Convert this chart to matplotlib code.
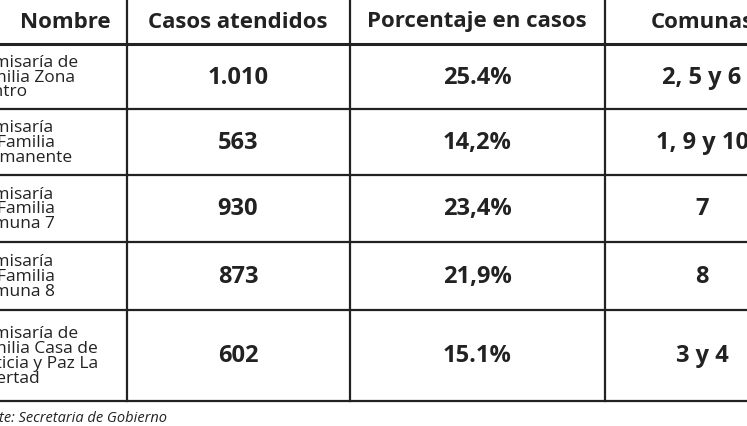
import matplotlib
matplotlib.use("Agg")
import matplotlib.pyplot as plt

headers = ["Nombre", "Casos atendidos", "Porcentaje en casos", "Comunas"]
names = ["Comisaría de\nFamilia Zona\nCentro", "Comisaría\nde Familia\nPermanente",
         "Comisaría\nde Familia\nComuna 7", "Comisaría\nde Familia\nComuna 8",
         "Comisaría de\nFamilia Casa de\nJusticia y Paz La\nLibertad"]
casos = ["1.010", "563", "930", "873", "602"]
porcentaje = ["25.4%", "14,2%", "23,4%", "21,9%", "15.1%"]
comunas = ["2, 5 y 6", "1, 9 y 10", "7", "8", "3 y 4"]
source = "Fuente: Secretaria de Gobierno"

W, H = 747, 427
fig = plt.figure(figsize=(W/100, H/100), dpi=100)
ax = fig.add_axes([0, 0, 1, 1])
ax.set_xlim(0, W); ax.set_ylim(H, 0); ax.axis("off")
plt.rcParams['font.family'] = ['Open Sans', 'DejaVu Sans']

rows_y = [0, 45, 110, 176, 243, 311, 402]
cols_x = [-5, 127, 350, 605, 760]
for y in rows_y[1:]:
    ax.plot([-5, W+5], [y, y], color="#222", lw=1.6 if y != 45 else 2.2)
for x in cols_x[1:-1]:
    ax.plot([x, x], [0, 402], color="#222", lw=1.6)

hx = [65, 238, 477, 702]
for x, h in zip(hx, headers):
    ax.text(x, 22, h, ha="center", va="center", fontsize=16, fontweight="bold", color="#222")

for i in range(5):
    yc = (rows_y[i+1] + rows_y[i+2]) / 2
    ax.text(-28, yc, names[i], ha="left", va="center", fontsize=12.5, color="#222", linespacing=0.9)
    ax.text(238, yc, casos[i], ha="center", va="center", fontsize=17, fontweight="bold", color="#222")
    ax.text(477, yc, porcentaje[i], ha="center", va="center", fontsize=17, fontweight="bold", color="#222")
    ax.text(702, yc, comunas[i], ha="center", va="center", fontsize=17, fontweight="bold", color="#222")

ax.text(-32, 419, source, ha="left", va="center", fontsize=10.5, style="italic", color="#222")
fig.savefig("out.png", dpi=100)
